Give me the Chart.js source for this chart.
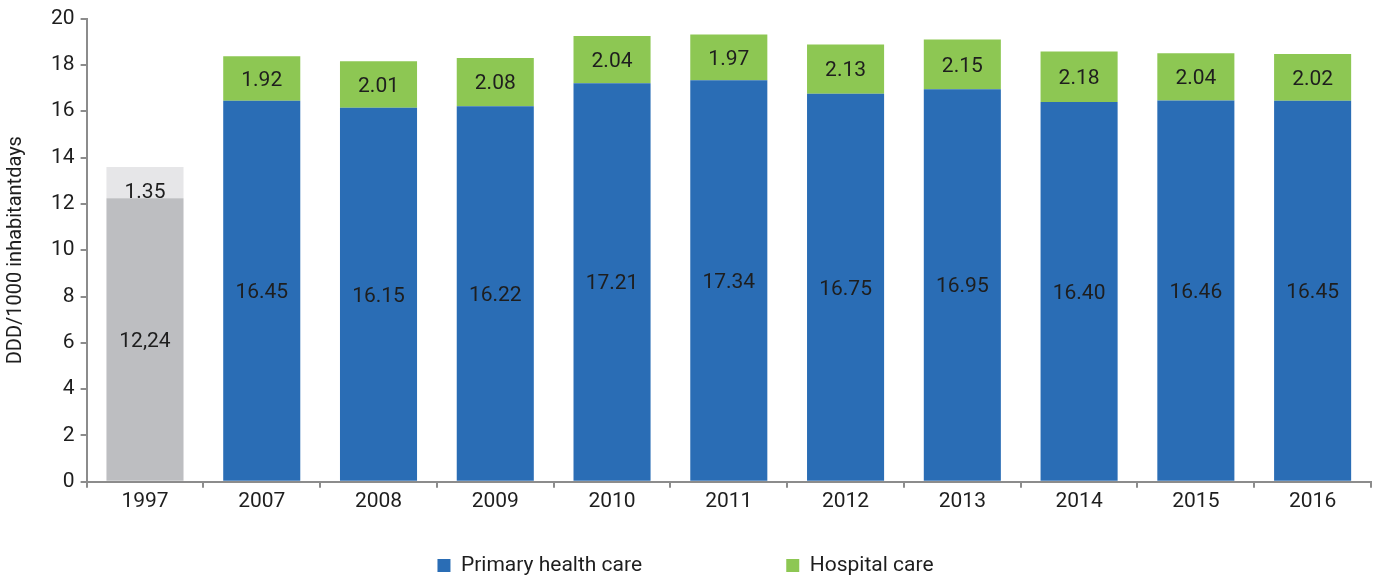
<!doctype html>
<html>
  <head>
    <title>DDD/1000 inhabitantdays</title>
    <script src="https://cdn.jsdelivr.net/npm/chart.js@4"></script>
    <style>
      body { margin: 0; background: #fff; }
      #wrap { width: 1379px; height: 577px; }
    </style>
  </head>
  <body>
    <div id="wrap"><canvas id="dddChart"></canvas></div>
    <script>
      // values
      var years = ["1997", "2007", "2008", "2009", "2010", "2011", "2012", "2013", "2014", "2015", "2016"];
      var primary = [null, 16.45, 16.15, 16.22, 17.21, 17.34, 16.75, 16.95, 16.40, 16.46, 16.45];
      var hospital = [null, 1.92, 2.01, 2.08, 2.04, 1.97, 2.13, 2.15, 2.18, 2.04, 2.02];
      var primary1997 = [12.24, null, null, null, null, null, null, null, null, null, null];
      var hospital1997 = [1.35, null, null, null, null, null, null, null, null, null, null];
      var yTicks = [0, 2, 4, 6, 8, 10, 12, 14, 16, 18, 20];

      var textColor = "#1e1e1e";
      var axisColor = "#8c8c8c";
      var fontFamily = "Roboto";
      var fontSize = 21;

      // writes the value in the middle of each bar segment
      var barLabels = {
        id: "barLabels",
        afterDatasetsDraw: function (chart) {
          var ctx = chart.ctx;
          ctx.save();
          ctx.font = fontSize + "px " + fontFamily;
          ctx.fillStyle = textColor;
          ctx.textAlign = "center";
          ctx.textBaseline = "middle";
          chart.data.datasets.forEach(function (ds, i) {
            var meta = chart.getDatasetMeta(i);
            meta.data.forEach(function (bar, j) {
              var v = ds.data[j];
              if (v == null) return;
              var p = bar.getProps(["x", "y", "base"], true);
              var txt = v.toFixed(2);
              if (ds.comma) txt = txt.replace(".", ",");
              ctx.fillText(txt, p.x, (p.y + p.base) / 2 + (ds.labelShift || 2));
            });
          });
          ctx.restore();
        },
      };

      var ctx = document.getElementById("dddChart").getContext("2d");
      var chart = new Chart(ctx, {
        type: "bar",
        data: {
          labels: years,
          datasets: [
            { label: "Primary health care", data: primary, backgroundColor: "#2a6db5" },
            { label: "Hospital care", data: hospital, backgroundColor: "#8dc753" },
            { label: "1997 primary", data: primary1997, backgroundColor: "#bdbec1", comma: true },
            { label: "1997 hospital", data: hospital1997, backgroundColor: "#e6e6e8", labelShift: 10 },
          ],
        },
        options: {
          responsive: true,
          maintainAspectRatio: false,
          animation: false,
          barPercentage: 0.66,
          categoryPercentage: 1,
          layout: { padding: { top: 12, right: 8, left: 0, bottom: 0 } },
          scales: {
            x: {
              stacked: true,
              grid: { drawOnChartArea: false, drawTicks: true, tickLength: 6, color: axisColor, lineWidth: 2 },
              border: { color: axisColor, width: 2 },
              ticks: { color: textColor, font: { family: fontFamily, size: fontSize }, padding: 1 },
            },
            y: {
              stacked: true,
              min: 0,
              max: 20,
              afterBuildTicks: function (axis) {
                axis.ticks = yTicks.map(function (v) { return { value: v }; });
              },
              grid: { drawOnChartArea: false, drawTicks: true, tickLength: 6, color: axisColor, lineWidth: 2 },
              border: { color: axisColor, width: 2 },
              ticks: { color: textColor, font: { family: fontFamily, size: fontSize }, padding: 6 },
              title: {
                display: true,
                text: "DDD/1000 inhabitantdays",
                color: textColor,
                font: { family: fontFamily, size: 20 },
                padding: { top: 4, bottom: 17 },
              },
            },
          },
          plugins: {
            tooltip: { enabled: false },
            legend: {
              position: "bottom",
              maxHeight: 62,
              labels: {
                color: textColor,
                font: { family: fontFamily, size: fontSize },
                boxWidth: 13,
                boxHeight: 13,
                padding: 40,
                filter: function (item) { return item.datasetIndex < 2; },
                generateLabels: function (c) {
                  var items = Chart.defaults.plugins.legend.labels.generateLabels(c);
                  items[0].text = items[0].text + " ".repeat(20);
                  return items;
                },
              },
            },
          },
        },
        plugins: [barLabels],
      });
    </script>
  </body>
</html>
